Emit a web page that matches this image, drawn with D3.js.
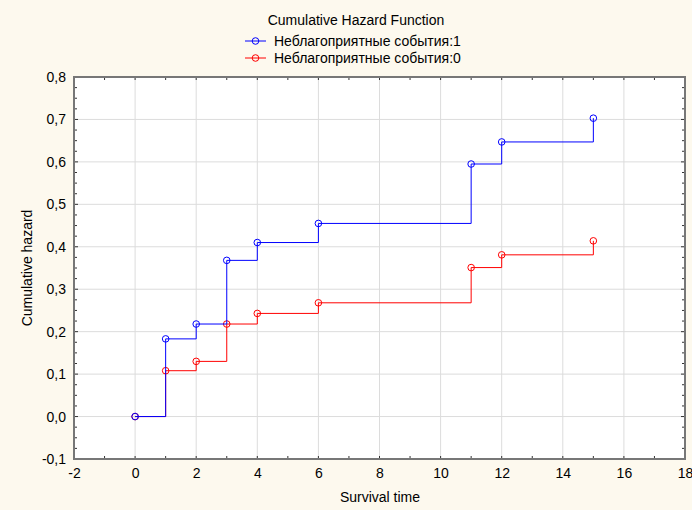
<!DOCTYPE html>
<html>
<head>
<meta charset="utf-8">
<script src="https://cdn.jsdelivr.net/npm/d3@7"></script>
<style>
  body { margin: 0; background: #fdf9ee; }
  svg { display: block; font-family: "Liberation Sans", Arial, sans-serif; }
</style>
</head>
<body>
<div id="chart"></div>
<script>
// survival times and cumulative hazard values
var times = [0, 1, 2, 3, 4, 6, 11, 12, 15];
var hazard1 = [0, 0.183, 0.218, 0.368, 0.41, 0.455, 0.595, 0.647, 0.703];
var hazard0 = [0, 0.108, 0.13, 0.218, 0.243, 0.268, 0.351, 0.381, 0.414];
var seriesNames = ["Неблагоприятные события:1", "Неблагоприятные события:0"];
var seriesColors = ["#0000ff", "#ff0000"];
var xTicks = [-2, 0, 2, 4, 6, 8, 10, 12, 14, 16, 18];
var yTicks = [-0.1, 0, 0.1, 0.2, 0.3, 0.4, 0.5, 0.6, 0.7, 0.8];

var width = 692, height = 510,
    margin = {top: 77, right: 7, bottom: 51, left: 74};

var svg = d3.select("#chart").append("svg")
  .attr("width", width)
  .attr("height", height);

svg.append("rect").attr("width", width).attr("height", height).attr("fill", "#fdf9ee");

var x = d3.scaleLinear().domain([-2, 18]).range([margin.left, width - margin.right]);
var y = d3.scaleLinear().domain([-0.1, 0.8]).range([height - margin.bottom, margin.top]);

var fmt = function(d) { return d3.format(".1f")(d).replace(".", ",").replace("−", "-"); };

// plot area
svg.append("rect")
  .attr("x", x(-2)).attr("y", y(0.8))
  .attr("width", x(18) - x(-2)).attr("height", y(-0.1) - y(0.8))
  .attr("fill", "#fff");

// grid
svg.append("g").selectAll("line").data(xTicks.slice(1, -1)).enter().append("line")
  .attr("x1", function(d) { return x(d); }).attr("x2", function(d) { return x(d); })
  .attr("y1", y(0.8)).attr("y2", y(-0.1))
  .attr("stroke", "#dcdcdc");
svg.append("g").selectAll("line").data(yTicks.slice(1, -1)).enter().append("line")
  .attr("y1", function(d) { return y(d); }).attr("y2", function(d) { return y(d); })
  .attr("x1", x(-2)).attr("x2", x(18))
  .attr("stroke", "#dcdcdc");

// axes (ticks inside)
var xMinor = d3.range(-2, 18.01, 1);
var yMinor = d3.range(-0.1, 0.801, 0.025);

var bottom = svg.append("g").attr("transform", "translate(0," + y(-0.1) + ")")
  .call(d3.axisBottom(x).tickValues(xTicks).tickSize(0).tickPadding(9).tickFormat(function(d) { return d; }));
var left = svg.append("g").attr("transform", "translate(" + x(-2) + ",0)")
  .call(d3.axisLeft(y).tickValues(yTicks).tickSize(0).tickPadding(8).tickFormat(fmt));
[bottom, left].forEach(function(a) {
  a.select(".domain").remove();
  a.selectAll("text").attr("font-size", 14).attr("fill", "#000").attr("font-family", "Liberation Sans, Arial, sans-serif");
});

var ticks = svg.append("g").attr("stroke", "#333").attr("stroke-width", 1);
xMinor.forEach(function(d) {
  ticks.append("line").attr("x1", x(d)).attr("x2", x(d)).attr("y1", y(-0.1)).attr("y2", y(-0.1) - 3);
  ticks.append("line").attr("x1", x(d)).attr("x2", x(d)).attr("y1", y(0.8)).attr("y2", y(0.8) + 3);
});
yMinor.forEach(function(d, i) {
  var len = (i % 4 == 0) ? 4 : 3;
  ticks.append("line").attr("y1", y(d)).attr("y2", y(d)).attr("x1", x(-2)).attr("x2", x(-2) + len);
  ticks.append("line").attr("y1", y(d)).attr("y2", y(d)).attr("x1", x(18)).attr("x2", x(18) - len);
});

svg.append("rect")
  .attr("x", x(-2)).attr("y", y(0.8))
  .attr("width", x(18) - x(-2)).attr("height", y(-0.1) - y(0.8))
  .attr("fill", "none").attr("stroke", "#777").attr("stroke-width", 2);

// step lines, red under blue
var line = d3.line()
  .x(function(d) { return x(d[0]); })
  .y(function(d) { return y(d[1]); })
  .curve(d3.curveStepAfter);

var series = [hazard0, hazard1];
var cols = [seriesColors[1], seriesColors[0]];
series.forEach(function(vals, k) {
  var pts = times.map(function(t, i) { return [t, vals[i]]; });
  svg.append("path").datum(pts)
    .attr("d", line).attr("fill", "none")
    .attr("stroke", cols[k]).attr("stroke-width", 1);
  svg.append("g").selectAll("circle").data(pts).enter().append("circle")
    .attr("cx", function(d) { return x(d[0]); })
    .attr("cy", function(d) { return y(d[1]); })
    .attr("r", 3.3)
    .attr("fill", "none").attr("stroke", cols[k]).attr("stroke-width", 1);
});

// title and legend
svg.append("text").attr("x", 356).attr("y", 25).attr("text-anchor", "middle")
  .attr("font-size", 14).text("Cumulative Hazard Function");

seriesNames.forEach(function(name, i) {
  var ly = 41 + i * 17;
  svg.append("line").attr("x1", 245).attr("x2", 266).attr("y1", ly).attr("y2", ly)
    .attr("stroke", seriesColors[i]);
  svg.append("circle").attr("cx", 255.5).attr("cy", ly).attr("r", 3.3)
    .attr("fill", "none").attr("stroke", seriesColors[i]);
  svg.append("text").attr("x", 274).attr("y", ly + 5).attr("font-size", 14).text(name);
});

// axis titles
svg.append("text").attr("x", 380).attr("y", 502).attr("text-anchor", "middle")
  .attr("font-size", 14).text("Survival time");
svg.append("text").attr("transform", "translate(32,268) rotate(-90)").attr("text-anchor", "middle")
  .attr("font-size", 14).text("Cumulative hazard");
</script>
</body>
</html>
